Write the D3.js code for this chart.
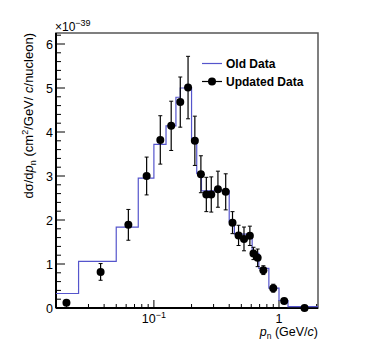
<!DOCTYPE html>
<html>
<head>
<meta charset="utf-8">
<script src="https://cdn.jsdelivr.net/npm/d3@7"></script>
<style>
  body { margin: 0; background: #fff; }
  text { font-family: "Liberation Sans", Arial, sans-serif; fill: #000; }
</style>
</head>
<body>
<svg width="374" height="363"></svg>
<script>
// updated data points (units of 1e-39)
const newP   = [0.02, 0.0375, 0.0625, 0.0875, 0.1125, 0.1375, 0.1625, 0.1875, 0.2125, 0.2375, 0.2625, 0.2875,
                0.325, 0.375, 0.425, 0.475, 0.525, 0.585, 0.625, 0.675, 0.75, 0.9, 1.1, 1.6];
const newVal = [0.12, 0.82, 1.89, 3.0, 3.82, 4.14, 4.68, 5.01, 3.8, 3.04, 2.58, 2.58,
                2.7, 2.64, 1.94, 1.65, 1.57, 1.64, 1.24, 1.14, 0.86, 0.45, 0.16, 0.0];
const newErr = [0.0, 0.19, 0.35, 0.43, 0.55, 0.56, 0.57, 0.71, 0.56, 0.42, 0.39, 0.40,
                0.41, 0.41, 0.25, 0.23, 0.27, 0.22, 0.14, 0.2, 0.1, 0.09, 0.04, 0.0];

// old data histogram
const oldEdges = [0.0165, 0.025, 0.05, 0.075, 0.1, 0.125, 0.15, 0.1625, 0.2, 0.22, 0.24, 0.4, 0.44, 0.61, 0.69, 0.83, 1.0, 1.18, 2.05];
const oldVal   = [0.33, 1.06, 1.84, 2.95, 3.72, 4.14, 4.79, 5.0, 3.82, 3.06, 2.66, 1.96, 1.68, 1.24, 0.9, 0.45, 0.17, 0.03];

const yTicks = [0, 1, 2, 3, 4, 5, 6];
const xMajor = [0.1, 1];

const svg = d3.select("svg");
const m = {left: 56, top: 33, right: 318, bottom: 308};

const x = d3.scaleLog().domain([0.0165, 2.05]).range([m.left, m.right]);
const y = d3.scaleLinear().domain([0, 6.25]).range([m.bottom, m.top]);

// frame
svg.append("rect")
    .attr("x", m.left).attr("y", m.top)
    .attr("width", m.right - m.left).attr("height", m.bottom - m.top)
    .attr("fill", "none").attr("stroke", "#555").attr("stroke-width", 1.5);

// y ticks (inside)
const yMinor = d3.range(0, 6.21, 0.2);
svg.append("g").selectAll("line").data(yMinor).enter().append("line")
    .attr("x1", m.left).attr("x2", (d) => Math.abs(d - Math.round(d)) < 1e-6 ? m.left + 9 : m.left + 5)
    .attr("y1", (d) => y(d)).attr("y2", (d) => y(d))
    .attr("stroke", "#000").attr("stroke-width", 1);

svg.append("g").selectAll("text").data(yTicks).enter().append("text")
    .attr("x", 53).attr("y", (d) => y(d) + 4.5)
    .attr("text-anchor", "end").style("font-size", "12.5px")
    .text((d) => d);

// x ticks (inside)
const xMinor = [0.02, 0.03, 0.04, 0.05, 0.06, 0.07, 0.08, 0.09, 0.2, 0.3, 0.4, 0.5, 0.6, 0.7, 0.8, 0.9, 2];
svg.append("g").selectAll("line").data(xMinor.concat(xMajor)).enter().append("line")
    .attr("x1", (d) => x(d)).attr("x2", (d) => x(d))
    .attr("y1", m.bottom).attr("y2", (d) => xMajor.includes(d) ? m.bottom - 8 : m.bottom - 4)
    .attr("stroke", "#000").attr("stroke-width", 1);

// left + bottom axis lines
svg.append("line").attr("x1", m.left).attr("x2", m.left).attr("y1", m.top).attr("y2", m.bottom)
    .attr("stroke", "#000").attr("stroke-width", 2);
svg.append("line").attr("x1", m.left).attr("x2", m.right).attr("y1", m.bottom).attr("y2", m.bottom)
    .attr("stroke", "#000").attr("stroke-width", 2);

const t1 = svg.append("text").attr("x", x(0.1)).attr("y", 323).attr("text-anchor", "middle").style("font-size", "12.5px");
t1.append("tspan").text("10");
t1.append("tspan").attr("dy", -5).style("font-size", "9px").text("\u22121");
svg.append("text").attr("x", x(1)).attr("y", 323).attr("text-anchor", "middle").style("font-size", "12.5px").text("1");

// exponent
const ex = svg.append("text").attr("x", 55).attr("y", 30.5).style("font-size", "12px");
ex.append("tspan").text("\u00d710");
ex.append("tspan").attr("dy", -5).style("font-size", "9px").text("\u221239");

// axis titles
const xt = svg.append("text").attr("x", m.right).attr("y", 336).attr("text-anchor", "end").style("font-size", "12.5px");
xt.append("tspan").style("font-style", "italic").text("p");
xt.append("tspan").attr("dy", 3).style("font-size", "8.5px").text("n");
xt.append("tspan").attr("dy", -3).text(" (GeV/");
xt.append("tspan").style("font-style", "italic").text("c");
xt.append("tspan").text(")");

const yt = svg.append("text").attr("transform", `translate(33,${m.top}) rotate(-90)`)
    .attr("text-anchor", "end").style("font-size", "13px");
yt.append("tspan").text("d\u03c3/d");
yt.append("tspan").style("font-style", "italic").text("p");
yt.append("tspan").attr("dy", 3).style("font-size", "9px").text("n");
yt.append("tspan").attr("dy", -3).text("  (cm");
yt.append("tspan").attr("dy", -5).style("font-size", "9px").text("2");
yt.append("tspan").attr("dy", 5).text("/GeV/ ");
yt.append("tspan").style("font-style", "italic").text("c");
yt.append("tspan").text("/nucleon)");

// old data histogram
const steps = [];
oldVal.forEach((v, i) => {
    steps.push([oldEdges[i], v]);
    steps.push([oldEdges[i + 1], v]);
});
svg.append("path")
    .datum(steps)
    .attr("d", d3.line().x((d) => x(d[0])).y((d) => y(d[1])))
    .attr("fill", "none").attr("stroke", "#5555cc").attr("stroke-width", 1.2);

// updated data
const pts = newP.map((p, i) => ({p: p, v: newVal[i], e: newErr[i]}));
const g = svg.append("g");
const eb = pts.filter((d) => d.e > 0);
g.selectAll(".eb").data(eb).enter().append("line")
    .attr("x1", (d) => x(d.p)).attr("x2", (d) => x(d.p))
    .attr("y1", (d) => y(d.v - d.e)).attr("y2", (d) => y(d.v + d.e))
    .attr("stroke", "#000").attr("stroke-width", 1.2);
g.selectAll(".cap").data(eb.flatMap((d) => [[d.p, d.v - d.e], [d.p, d.v + d.e]])).enter().append("line")
    .attr("x1", (d) => x(d[0]) - 2).attr("x2", (d) => x(d[0]) + 2)
    .attr("y1", (d) => y(d[1])).attr("y2", (d) => y(d[1]))
    .attr("stroke", "#000").attr("stroke-width", 1);
g.selectAll("circle").data(pts).enter().append("circle")
    .attr("cx", (d) => x(d.p)).attr("cy", (d) => y(d.v)).attr("r", 4)
    .attr("fill", "#000");

// legend
const lg = svg.append("g");
lg.append("line").attr("x1", 202).attr("x2", 222).attr("y1", 63.5).attr("y2", 63.5)
    .attr("stroke", "#5555cc").attr("stroke-width", 1.2);
lg.append("text").attr("x", 226).attr("y", 68).style("font-size", "12px").style("font-weight", "bold").text("Old Data");
lg.append("line").attr("x1", 202).attr("x2", 222).attr("y1", 81.5).attr("y2", 81.5)
    .attr("stroke", "#000").attr("stroke-width", 1.2);
lg.append("circle").attr("cx", 212).attr("cy", 81.5).attr("r", 4).attr("fill", "#000");
lg.append("text").attr("x", 226).attr("y", 86).style("font-size", "12px").style("font-weight", "bold").text("Updated Data");
</script>
</body>
</html>
